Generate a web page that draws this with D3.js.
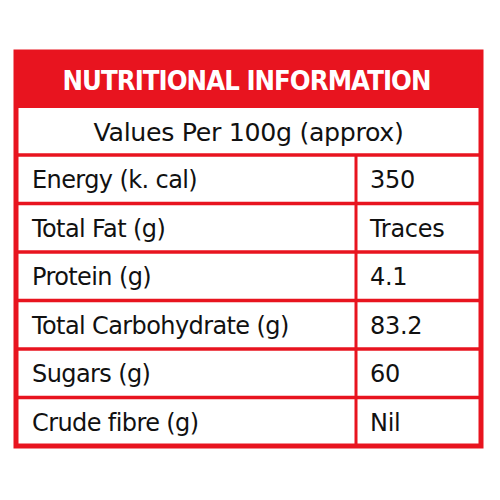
<!DOCTYPE html>
<html><head><meta charset="utf-8">
<script src="https://cdn.jsdelivr.net/npm/d3@7"></script>
<style>body{margin:0;background:#fff}</style>
</head><body>
<svg id="chart" width="500" height="500"></svg>
<script>
var title = "NUTRITIONAL INFORMATION";
var subtitle = "Values Per 100g (approx)";
var nutrients = ["Energy (k. cal)", "Total Fat (g)", "Protein (g)", "Total Carbohydrate (g)", "Sugars (g)", "Crude fibre (g)"];
var amounts = ["350", "Traces", "4.1", "83.2", "60", "Nil"];

var red = "#e8141f";
var svg = d3.select("#chart");
var boxL = 16, boxR = 481, boxT = 52, headH = 56, subH = 47, boxB = 446, divX = 356;

var y = d3.scaleBand().domain(nutrients).range([boxT + headH + subH, boxB]);

svg.append("rect").attr("x", boxL).attr("y", boxT).attr("width", boxR - boxL).attr("height", headH).attr("fill", red);
svg.append("text").attr("x", (boxL + boxR) / 2 - 2).attr("y", boxT + headH / 2 + 10)
  .attr("text-anchor", "middle").attr("fill", "#fff")
  .style("font", "bold 26px 'DejaVu Sans'").style("letter-spacing", "-1px")
  .attr("textLength", 368).attr("lengthAdjust", "spacingAndGlyphs").text(title);
svg.append("text").attr("x", (boxL + boxR) / 2).attr("y", boxT + headH + subH / 2 + 9)
  .attr("text-anchor", "middle").attr("fill", "#111")
  .style("font", "24px 'DejaVu Sans'").style("letter-spacing", "-0.3px")
  .attr("textLength", 310).attr("lengthAdjust", "spacingAndGlyphs").text(subtitle);

var rows = svg.selectAll("g.row").data(nutrients).enter().append("g").attr("class", "row");
rows.append("line").attr("x1", boxL).attr("x2", boxR)
  .attr("y1", function(d) { return y(d); }).attr("y2", function(d) { return y(d); })
  .attr("stroke", red).attr("stroke-width", 3.5);
rows.append("text").attr("x", 32).attr("y", function(d) { return y(d) + y.bandwidth() / 2 + 9; })
  .attr("fill", "#111").style("font", "24px 'DejaVu Sans'").style("letter-spacing", "-0.6px")
  .text(function(d) { return d; });
rows.append("text").attr("x", 370).attr("y", function(d) { return y(d) + y.bandwidth() / 2 + 9; })
  .attr("fill", "#111").style("font", "24px 'DejaVu Sans'").style("letter-spacing", "-0.3px")
  .text(function(d, i) { return amounts[i]; });

svg.append("line").attr("x1", divX).attr("x2", divX).attr("y1", y.range()[0]).attr("y2", boxB)
  .attr("stroke", red).attr("stroke-width", 3);
svg.append("rect").attr("x", boxL).attr("y", boxT).attr("width", boxR - boxL).attr("height", boxB - boxT)
  .attr("fill", "none").attr("stroke", red).attr("stroke-width", 5);
</script>
</body></html>
